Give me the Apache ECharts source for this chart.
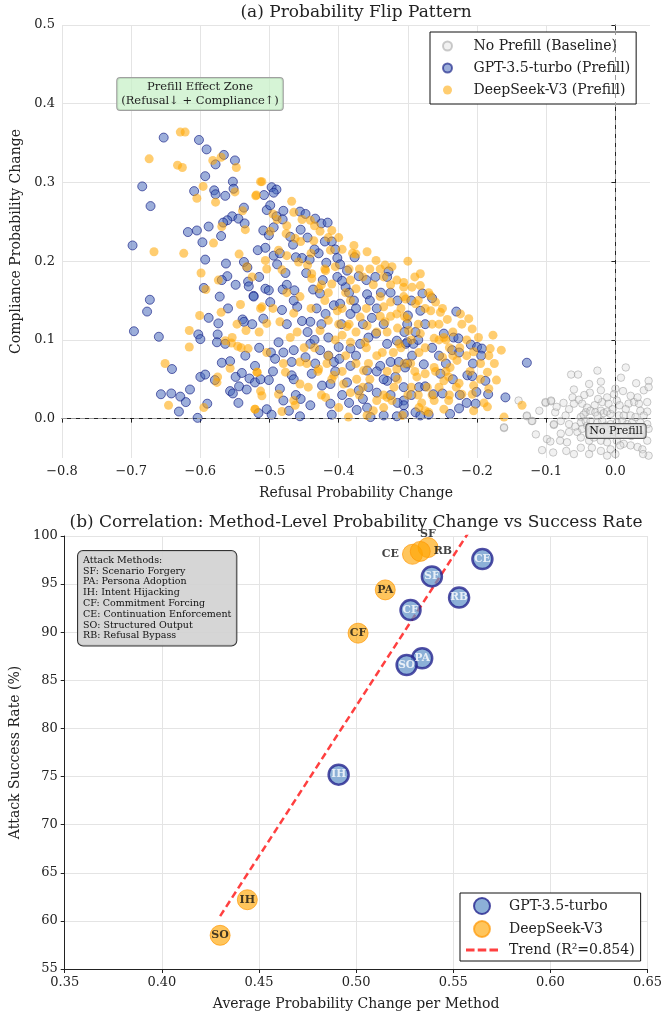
<!DOCTYPE html>
<html>
<head>
<meta charset="utf-8">
<script src="https://cdn.jsdelivr.net/npm/echarts@6/dist/echarts.min.js"></script>
<style>html,body{margin:0;padding:0;background:#fff}#c{width:665px;height:1015px}</style>
</head>
<body>
<div id="c"></div>
<script>
// ---------- (a) Probability Flip Pattern: [refusal change, compliance change] ----------
const baseline = [
[-0.064,0.056],[-0.054,0.056],[-0.026,0.061],[0.015,0.065],[-0.021,0.047],[0.008,0.052],[-0.060,0.037],[-0.037,0.033],
[-0.021,0.036],[0.000,0.038],[-0.002,0.031],[-0.101,0.020],[-0.093,0.022],[-0.075,0.020],[-0.062,0.027],[-0.053,0.024],
[-0.048,0.019],[-0.060,0.019],[-0.067,0.012],[-0.041,0.014],[-0.030,0.017],[-0.019,0.021],[-0.010,0.019],[0.002,0.023],
[0.006,0.017],[0.019,0.019],[0.027,0.021],[0.034,0.019],[0.046,0.021],[0.046,0.009],[0.036,0.010],[0.015,0.012],
[-0.043,0.008],[-0.036,0.010],[-0.029,0.008],[-0.021,0.010],[-0.017,0.007],[-0.012,0.009],[-0.007,0.006],[-0.026,0.004],
[-0.050,0.002],[-0.046,0.005],[-0.128,0.003],[-0.120,-0.003],[-0.161,-0.012],[-0.089,-0.008],[-0.079,-0.003],[-0.067,-0.007],
[-0.050,-0.005],[-0.041,-0.009],[-0.007,-0.007],[0.002,-0.005],[0.010,-0.003],[0.017,-0.007],[0.024,-0.005],[0.036,-0.005],
[0.046,-0.007],[-0.079,-0.019],[-0.067,-0.017],[-0.055,-0.017],[-0.050,-0.024],[-0.099,-0.026],[-0.094,-0.029],[-0.080,-0.028],
[-0.070,-0.030],[-0.038,-0.028],[-0.031,-0.024],[-0.021,-0.028],[-0.012,-0.030],[0.002,-0.028],[0.012,-0.032],[0.022,-0.034],
[0.032,-0.036],[0.039,-0.039],[0.046,-0.028],[-0.106,-0.040],[-0.071,-0.041],[-0.050,-0.037],[-0.034,-0.037],[-0.021,-0.041],
[-0.007,-0.039],[0.007,-0.034],[-0.060,-0.045],[-0.038,-0.045],[-0.012,-0.047],[0.048,-0.047],[0.023,-0.022],[0.036,-0.020],
[0.048,-0.013],[-0.048,-0.013],[-0.043,-0.003],[-0.036,-0.003],[-0.026,-0.005],[-0.019,-0.003],[-0.014,-0.009],[-0.021,-0.013],
[-0.034,-0.014],[-0.012,-0.020],[-0.002,-0.017],[0.005,-0.015],[0.005,0.004],[0.012,0.004],[0.022,0.004],[0.029,0.002],
[0.041,0.004],[0.048,0.048],[0.041,0.036],[-0.012,0.027],[0.032,0.027],[0.022,0.029],[0.048,0.040],[-0.038,0.044],
[-0.140,0.023],[-0.128,0.004],[-0.121,-0.003],[-0.101,0.021],[-0.093,0.023],[-0.087,0.008],[-0.089,-0.007],[-0.161,-0.011],
[-0.110,0.010],[-0.085,0.015],[-0.058,-0.010],[-0.004,0.012],[0.028,-0.015],[-0.072,0.004],[-0.025,0.025],[0.011,0.035],
[-0.045,0.030],[0.040,-0.045],[-0.090,-0.043],[-0.115,-0.020],[0.000,-0.045],[0.030,0.045]
];
const gptPrefill = [
[-0.653,0.357],[-0.602,0.354],[-0.591,0.342],[-0.566,0.335],[-0.578,0.323],[-0.550,0.328],[-0.593,0.308],[-0.553,0.301],
[-0.684,0.295],[-0.609,0.289],[-0.580,0.290],[-0.578,0.285],[-0.564,0.283],[-0.552,0.292],[-0.672,0.270],[-0.537,0.268],
[-0.554,0.257],[-0.545,0.254],[-0.561,0.252],[-0.567,0.249],[-0.536,0.248],[-0.588,0.244],[-0.618,0.237],[-0.605,0.239],
[-0.570,0.232],[-0.597,0.224],[-0.698,0.220],[-0.593,0.202],[-0.563,0.197],[-0.537,0.199],[-0.532,0.192],[-0.561,0.181],
[-0.569,0.176],[-0.549,0.170],[-0.531,0.174],[-0.530,0.168],[-0.595,0.166],[-0.572,0.155],[-0.523,0.156],[-0.673,0.151],
[-0.677,0.136],[-0.588,0.128],[-0.574,0.121],[-0.539,0.126],[-0.537,0.123],[-0.696,0.111],[-0.660,0.104],[-0.603,0.107],
[-0.600,0.101],[-0.575,0.107],[-0.576,0.097],[-0.564,0.095],[-0.569,0.071],[-0.557,0.073],[-0.641,0.063],[-0.600,0.053],
[-0.593,0.056],[-0.579,0.049],[-0.549,0.053],[-0.540,0.058],[-0.529,0.051],[-0.521,0.046],[-0.544,0.041],[-0.533,0.037],
[-0.557,0.035],[-0.553,0.032],[-0.657,0.031],[-0.642,0.032],[-0.629,0.028],[-0.621,0.021],[-0.615,0.037],[-0.590,0.019],
[-0.631,0.009],[-0.604,0.001],[-0.516,0.007],
[-0.497,0.294],[-0.490,0.291],[-0.494,0.287],[-0.508,0.284],[-0.504,0.265],[-0.499,0.271],[-0.490,0.257],[-0.480,0.264],
[-0.481,0.253],[-0.509,0.239],[-0.494,0.243],[-0.501,0.233],[-0.470,0.231],[-0.466,0.221],[-0.456,0.263],[-0.448,0.260],
[-0.434,0.254],[-0.425,0.248],[-0.416,0.249],[-0.410,0.225],[-0.429,0.210],[-0.517,0.214],[-0.506,0.217],[-0.494,0.207],
[-0.489,0.196],[-0.477,0.185],[-0.453,0.204],[-0.442,0.202],[-0.418,0.198],[-0.402,0.204],[-0.398,0.196],[-0.388,0.188],
[-0.402,0.180],[-0.423,0.176],[-0.437,0.164],[-0.427,0.159],[-0.464,0.163],[-0.481,0.164],[-0.506,0.165],[-0.501,0.163],
[-0.523,0.155],[-0.499,0.148],[-0.482,0.138],[-0.460,0.142],[-0.441,0.123],[-0.419,0.133],[-0.407,0.144],[-0.398,0.146],
[-0.383,0.133],[-0.360,0.176],[-0.347,0.180],[-0.371,0.181],[-0.390,0.167],[-0.359,0.158],[-0.328,0.187],[-0.330,0.180],
[-0.509,0.127],[-0.453,0.124],[-0.487,0.097],[-0.498,0.084],[-0.480,0.084],[-0.465,0.087],[-0.441,0.095],[-0.427,0.087],
[-0.415,0.103],[-0.400,0.091],[-0.383,0.089],[-0.369,0.095],[-0.357,0.103],[-0.346,0.108],[-0.330,0.095],[-0.316,0.099],
[-0.303,0.095],[-0.521,0.067],[-0.492,0.076],[-0.468,0.072],[-0.448,0.078],[-0.434,0.070],[-0.407,0.072],[-0.399,0.076],
[-0.383,0.067],[-0.359,0.061],[-0.340,0.067],[-0.325,0.072],[-0.313,0.072],[-0.301,0.070],[-0.513,0.050],[-0.501,0.049],
[-0.485,0.038],[-0.468,0.055],[-0.439,0.057],[-0.424,0.042],[-0.412,0.044],[-0.388,0.046],[-0.371,0.036],[-0.357,0.040],
[-0.345,0.033],[-0.330,0.048],[-0.318,0.053],[-0.306,0.040],[-0.504,0.012],[-0.497,0.005],[-0.472,0.010],[-0.456,0.003],
[-0.441,0.017],[-0.410,0.005],[-0.412,0.019],[-0.374,0.011],[-0.359,0.014],[-0.354,0.002],[-0.335,0.004],[-0.316,0.003],
[-0.306,0.023],[-0.480,0.023],[-0.462,0.030],[-0.447,0.185],[-0.432,0.140],[-0.396,0.120],[-0.378,0.150],[-0.352,0.128],
[-0.339,0.160],[-0.462,0.205],[-0.420,0.225],[-0.377,0.205],
[-0.279,0.159],[-0.265,0.153],[-0.282,0.137],[-0.300,0.131],[-0.301,0.120],[-0.230,0.136],[-0.289,0.110],[-0.248,0.108],
[-0.234,0.103],[-0.227,0.102],[-0.301,0.097],[-0.292,0.095],[-0.236,0.087],[-0.226,0.084],[-0.209,0.094],[-0.200,0.091],
[-0.193,0.089],[-0.194,0.080],[-0.128,0.071],[-0.294,0.080],[-0.304,0.065],[-0.277,0.069],[-0.253,0.057],[-0.206,0.070],
[-0.214,0.055],[-0.207,0.054],[-0.188,0.048],[-0.284,0.040],[-0.275,0.041],[-0.263,0.031],[-0.250,0.032],[-0.201,0.034],
[-0.184,0.031],[-0.159,0.027],[-0.202,0.019],[-0.226,0.013],[-0.306,0.017],[-0.289,0.008],[-0.282,0.004],[-0.270,0.005],
[-0.239,0.006],[-0.306,0.006],
[-0.455,0.240],[-0.445,0.230],[-0.435,0.215],[-0.405,0.215],[-0.395,0.175],[-0.385,0.160],[-0.375,0.140],[-0.365,0.120],
[-0.355,0.150],[-0.345,0.140],[-0.335,0.120],[-0.325,0.160],[-0.315,0.150],[-0.305,0.110],[-0.295,0.150],[-0.285,0.100],
[-0.275,0.120],[-0.265,0.090],[-0.255,0.080],[-0.245,0.070],[-0.235,0.050],[-0.225,0.030],[-0.215,0.020],[-0.445,0.110],
[-0.435,0.100],[-0.425,0.120],[-0.415,0.080],[-0.405,0.060],[-0.395,0.030],[-0.385,0.020],[-0.375,0.080],[-0.365,0.025],
[-0.345,0.060],[-0.335,0.050],[-0.325,0.030],[-0.315,0.020],[-0.295,0.030],[-0.475,0.120],[-0.465,0.050],[-0.455,0.025],
[-0.495,0.060],[-0.515,0.090],[-0.485,0.210],[-0.475,0.170],[-0.465,0.150],[-0.515,0.180],[-0.525,0.120],[-0.535,0.080],
[-0.545,0.020],[-0.560,0.140]
];
const deepseekPrefill = [
[-0.629,0.364],[-0.622,0.364],[-0.674,0.330],[-0.633,0.322],[-0.626,0.319],[-0.582,0.328],[-0.570,0.332],[-0.548,0.319],
[-0.596,0.295],[-0.605,0.280],[-0.578,0.275],[-0.550,0.288],[-0.520,0.283],[-0.513,0.301],[-0.569,0.244],[-0.581,0.223],
[-0.539,0.264],[-0.667,0.212],[-0.624,0.210],[-0.544,0.209],[-0.599,0.185],[-0.533,0.193],[-0.574,0.176],[-0.592,0.164],
[-0.542,0.145],[-0.513,0.140],[-0.570,0.135],[-0.601,0.131],[-0.547,0.120],[-0.534,0.112],[-0.616,0.112],[-0.564,0.099],
[-0.554,0.103],[-0.555,0.096],[-0.546,0.092],[-0.541,0.090],[-0.531,0.089],[-0.616,0.091],[-0.651,0.070],[-0.557,0.064],
[-0.575,0.053],[-0.576,0.046],[-0.518,0.059],[-0.646,0.017],[-0.595,0.014],[-0.521,0.012],[-0.513,0.035],
[-0.511,0.301],[-0.519,0.284],[-0.468,0.276],[-0.465,0.262],[-0.489,0.253],[-0.453,0.253],[-0.441,0.252],[-0.499,0.238],
[-0.476,0.235],[-0.463,0.229],[-0.436,0.226],[-0.427,0.238],[-0.410,0.239],[-0.412,0.214],[-0.487,0.214],[-0.475,0.207],
[-0.458,0.199],[-0.506,0.201],[-0.504,0.190],[-0.482,0.189],[-0.439,0.184],[-0.439,0.178],[-0.419,0.188],[-0.405,0.193],
[-0.378,0.220],[-0.375,0.209],[-0.359,0.212],[-0.346,0.201],[-0.333,0.195],[-0.323,0.193],[-0.316,0.176],[-0.306,0.167],
[-0.383,0.176],[-0.375,0.165],[-0.410,0.171],[-0.429,0.165],[-0.456,0.155],[-0.511,0.142],[-0.465,0.134],[-0.485,0.123],
[-0.504,0.121],[-0.415,0.125],[-0.402,0.137],[-0.383,0.150],[-0.369,0.129],[-0.340,0.155],[-0.335,0.142],[-0.325,0.148],
[-0.316,0.133],[-0.303,0.152],[-0.333,0.123],[-0.359,0.118],[-0.388,0.117],[-0.427,0.112],[-0.470,0.103],[-0.504,0.084],
[-0.456,0.072],[-0.446,0.070],[-0.429,0.063],[-0.417,0.070],[-0.395,0.106],[-0.383,0.097],[-0.362,0.097],[-0.357,0.070],
[-0.364,0.061],[-0.337,0.084],[-0.321,0.084],[-0.313,0.095],[-0.480,0.070],[-0.518,0.059],[-0.477,0.059],[-0.456,0.044],
[-0.444,0.040],[-0.407,0.055],[-0.393,0.044],[-0.374,0.050],[-0.383,0.033],[-0.419,0.027],[-0.511,0.029],[-0.487,0.031],
[-0.465,0.023],[-0.463,0.017],[-0.521,0.012],[-0.482,0.009],[-0.400,0.014],[-0.386,0.002],[-0.359,0.004],[-0.335,0.014],
[-0.330,0.027],[-0.323,0.023],[-0.308,0.004],[-0.345,0.023],[-0.316,0.063],
[-0.306,0.173],[-0.294,0.167],[-0.282,0.169],[-0.289,0.146],[-0.267,0.156],[-0.260,0.148],[-0.267,0.137],[-0.253,0.135],
[-0.243,0.126],[-0.224,0.133],[-0.222,0.120],[-0.212,0.127],[-0.207,0.114],[-0.198,0.103],[-0.177,0.106],[-0.181,0.089],
[-0.183,0.080],[-0.165,0.087],[-0.185,0.059],[-0.172,0.049],[-0.183,0.038],[-0.135,0.017],[-0.161,0.002],[-0.205,0.042],
[-0.205,0.010],[-0.222,0.031],[-0.226,0.045],[-0.239,0.065],[-0.241,0.053],[-0.248,0.048],[-0.241,0.023],[-0.248,0.012],
[-0.262,0.023],[-0.272,0.040],[-0.275,0.057],[-0.287,0.053],[-0.296,0.070],[-0.262,0.065],[-0.250,0.078],[-0.229,0.074],
[-0.284,0.084],[-0.262,0.102],[-0.248,0.103],[-0.282,0.108],[-0.299,0.112],[-0.301,0.127],[-0.284,0.014],[-0.270,0.008],
[-0.282,0.184],[-0.306,0.155],[-0.207,0.031],
[-0.460,0.110],[-0.440,0.140],[-0.420,0.150],[-0.400,0.120],[-0.380,0.210],[-0.370,0.190],[-0.360,0.140],[-0.350,0.170],
[-0.340,0.130],[-0.330,0.060],[-0.320,0.040],[-0.310,0.140],[-0.300,0.200],[-0.290,0.180],[-0.285,0.120],[-0.275,0.090],
[-0.270,0.160],[-0.265,0.030],[-0.255,0.100],[-0.250,0.140],[-0.240,0.090],[-0.235,0.110],[-0.230,0.040],[-0.215,0.080],
[-0.210,0.060],[-0.195,0.070],[-0.190,0.020],[-0.440,0.210],[-0.420,0.190],[-0.400,0.230],[-0.390,0.080],[-0.370,0.030],
[-0.350,0.010],[-0.330,0.110],[-0.310,0.090],[-0.290,0.060],[-0.430,0.060],[-0.450,0.090],[-0.410,0.050],[-0.390,0.160],
[-0.360,0.090],[-0.340,0.190],[-0.300,0.030],[-0.280,0.020],[-0.260,0.060],[-0.240,0.030],
[-0.455,0.225],[-0.445,0.195],[-0.425,0.170],[-0.415,0.160],[-0.405,0.100],[-0.395,0.140],[-0.385,0.190],[-0.375,0.110],
[-0.365,0.180],[-0.355,0.190],[-0.345,0.080],[-0.335,0.180],[-0.325,0.170],[-0.315,0.115],[-0.305,0.130],[-0.295,0.100],
[-0.285,0.150],[-0.275,0.140],[-0.265,0.120],[-0.255,0.120],[-0.245,0.100],[-0.235,0.080],[-0.225,0.090],[-0.215,0.100],
[-0.205,0.085],[-0.195,0.050],[-0.185,0.015],[-0.175,0.070],[-0.395,0.060],[-0.385,0.120],[-0.375,0.070],[-0.365,0.040],
[-0.355,0.050],[-0.345,0.110],[-0.335,0.030],[-0.325,0.130],[-0.315,0.050],[-0.305,0.070],[-0.295,0.040],[-0.285,0.030],
[-0.275,0.010],[-0.255,0.040],[-0.245,0.060],[-0.435,0.090],[-0.425,0.030],[-0.415,0.080],[-0.475,0.160],[-0.495,0.140],
[-0.515,0.110],[-0.525,0.180],[-0.535,0.240],[-0.495,0.260],[-0.475,0.245],[-0.435,0.245],[-0.415,0.230],[-0.395,0.215]
];

// ---------- (b) Method-level correlation ----------
const methods = ['SF','PA','IH','CF','CE','SO','RB'];
const gptProbChange = [0.539,0.534,0.491,0.528,0.565,0.526,0.553];
const gptSuccess    = [95.8, 87.3, 75.2, 92.3, 97.6, 86.6, 93.6];
const dsProbChange  = [0.537,0.515,0.444,0.501,0.529,0.430,0.533];
const dsSuccess     = [98.8, 94.4, 62.2, 89.9, 98.1, 58.5, 98.4];
const trendX = [0.430, 0.566];
const trendY = [60.5, 102.9];
const methodNotes = ['Attack Methods:','SF: Scenario Forgery','PA: Persona Adoption','IH: Intent Hijacking',
  'CF: Commitment Forcing','CE: Continuation Enforcement','SO: Structured Output','RB: Refusal Bypass'];

const FONT = "'DejaVu Serif', 'Liberation Serif', serif";
const minus = s => s.replace('-', '\u2212');
const isMult = (v, step) => Math.abs(v/step - Math.round(v/step)) < 1e-6;

const gridLine = {show:true, lineStyle:{color:'#e4e4e4', width:1}};
const axLine = {show:true, lineStyle:{color:'#222', width:1}};
const axTick = {show:true, length:4, lineStyle:{color:'#222'}};
const labStyle = {color:'#222', fontSize:13, fontFamily:FONT};
const nameStyle = {color:'#222', fontSize:14, fontFamily:FONT};

const dsLabelPos = {CE:'left', SF:'top', RB:'right'};
const trendName = 'Trend (R\u00b2=0.854)';

const chart = echarts.init(document.getElementById('c'), null, {renderer:'canvas'});
chart.setOption({
  animation:false,
  backgroundColor:'#fff',
  grid:[
    {left:62, top:25, right:15, height:433, containLabel:false},
    {left:62, top:536, right:15, height:433, containLabel:false}
  ],
  xAxis:[
    {gridIndex:0, type:'value', min:-0.8, max:0.05, interval:0.1,
     name:'Refusal Probability Change', nameLocation:'middle', nameGap:28, nameTextStyle:nameStyle,
     axisLine:axLine, axisTick:axTick, splitLine:Object.assign({showMaxLine:false}, gridLine),
     axisLabel:Object.assign({margin:7, showMaxLabel:false, formatter:v => isMult(v,0.1) ? minus(v.toFixed(1)) : ''}, labStyle)},
    {gridIndex:1, type:'value', min:0.35, max:0.65, interval:0.05,
     name:'Average Probability Change per Method', nameLocation:'middle', nameGap:28, nameTextStyle:nameStyle,
     axisLine:axLine, axisTick:axTick, splitLine:gridLine,
     axisLabel:Object.assign({margin:7, formatter:v => v.toFixed(2)}, labStyle)}
  ],
  yAxis:[
    {gridIndex:0, type:'value', min:-0.05, max:0.5, splitNumber:5,
     name:'Compliance Probability Change', nameLocation:'middle', nameGap:39, nameTextStyle:nameStyle,
     axisLine:axLine, axisTick:axTick, splitLine:Object.assign({showMinLine:false}, gridLine),
     axisLabel:Object.assign({margin:7, showMinLabel:false, formatter:v => isMult(v,0.1) ? minus(v.toFixed(1)) : ''}, labStyle)},
    {gridIndex:1, type:'value', min:55, max:100, interval:5,
     name:'Attack Success Rate (%)', nameLocation:'middle', nameGap:38, nameTextStyle:nameStyle,
     axisLine:axLine, axisTick:axTick, splitLine:gridLine,
     axisLabel:Object.assign({margin:7}, labStyle)}
  ],
  legend:[
    {left:430, top:32, orient:'vertical', itemWidth:26, itemHeight:9, itemGap:8,
     padding:[7,6,7,12], borderColor:'#111', borderWidth:1, backgroundColor:'#fff', borderRadius:0,
     textStyle:{fontFamily:FONT, fontSize:14, color:'#222', padding:[0,0,0,8]},
     data:['No Prefill (Baseline)','GPT-3.5-turbo (Prefill)','DeepSeek-V3 (Prefill)']},
    {left:460, top:893, orient:'vertical', itemWidth:32, itemHeight:16, itemGap:5,
     padding:[4,6,4,6], borderColor:'#111', borderWidth:1, backgroundColor:'#fff', borderRadius:0,
     textStyle:{fontFamily:FONT, fontSize:14, color:'#222', padding:[0,0,0,6]},
     data:['GPT-3.5-turbo','DeepSeek-V3',
       {name:trendName, icon:'path://M0,0h8v2.6h-8z M11,0h8v2.6h-8z M22,0h8v2.6h-8z', itemStyle:{color:'rgba(255,30,30,0.85)'}}]}
  ],
  series:[
    {name:'No Prefill (Baseline)', type:'scatter', xAxisIndex:0, yAxisIndex:0, data:baseline, symbolSize:7.5, z:2,
     itemStyle:{color:'rgba(215,215,215,0.45)', borderColor:'rgba(140,140,140,0.55)', borderWidth:1},
     markLine:{silent:true, symbol:['none','none'], label:{show:false}, animation:false,
       lineStyle:{type:[5,4], color:'#9a9a9a', width:1}, data:[{xAxis:0},{yAxis:0}]}},
    {name:'GPT-3.5-turbo (Prefill)', type:'scatter', xAxisIndex:0, yAxisIndex:0, data:gptPrefill, symbolSize:9, z:3,
     itemStyle:{color:'rgba(65,100,185,0.65)', borderColor:'rgba(15,25,130,0.8)', borderWidth:1}},
    {name:'DeepSeek-V3 (Prefill)', type:'scatter', xAxisIndex:0, yAxisIndex:0, data:deepseekPrefill, symbolSize:9, z:4,
     itemStyle:{color:'rgba(255,165,0,0.7)', borderWidth:0}},
    {name:trendName, type:'line', xAxisIndex:1, yAxisIndex:1, clip:true, symbol:'none', showSymbol:false, z:3,
     data:trendX.map((x,i)=>[x,trendY[i]]),
     lineStyle:{color:'rgba(255,30,30,0.85)', width:2.5, type:[7,4]}, itemStyle:{color:'rgba(255,30,30,0.85)'}},
    {name:'GPT-3.5-turbo', type:'scatter', xAxisIndex:1, yAxisIndex:1, symbolSize:20, z:4,
     data:methods.map((m,i)=>({value:[gptProbChange[i], gptSuccess[i]], name:m})),
     itemStyle:{color:'rgba(95,145,200,0.9)', borderColor:'#24248f', borderWidth:2.5},
     label:{show:true, position:'inside', formatter:p=>p.name, color:'#fff', fontFamily:FONT, fontSize:10.5, fontWeight:'bold'}},
    {name:'DeepSeek-V3', type:'scatter', xAxisIndex:1, yAxisIndex:1, symbolSize:20, z:5,
     data:methods.map((m,i)=>({value:[dsProbChange[i], dsSuccess[i]], name:m,
        label: dsLabelPos[m] ? {position:dsLabelPos[m], distance: m==='SF'?-3:3} : undefined})),
     itemStyle:{color:'rgba(255,165,0,0.8)', borderColor:'rgba(255,150,0,0.85)', borderWidth:1},
     label:{show:true, position:'inside', formatter:p=>p.name, color:'#111', fontFamily:FONT, fontSize:11, fontWeight:'bold'}}
  ],
  graphic:[
    {type:'text', x:356, y:13, style:{text:'(a) Probability Flip Pattern', textAlign:'center', textVerticalAlign:'middle', font:'17px '+FONT, fill:'#222'}},
    {type:'text', x:356, y:523, style:{text:'(b) Correlation: Method-Level Probability Change vs Success Rate', textAlign:'center', textVerticalAlign:'middle', font:'17px '+FONT, fill:'#222'}},
    {type:'text', x:200, y:94, z:10, style:{text:'Prefill Effect Zone\n(Refusal\u2193 + Compliance\u2191)', textAlign:'center', textVerticalAlign:'middle',
      font:'11.5px '+FONT, fill:'#222', lineHeight:14, backgroundColor:'rgba(200,240,200,0.75)', borderColor:'#a0a0a0', borderWidth:1, borderRadius:3, padding:[2,4,2,4]}},
    {type:'text', x:616, y:431, z:10, style:{text:'No Prefill', textAlign:'center', textVerticalAlign:'middle',
      font:'11px '+FONT, fill:'#111', backgroundColor:'rgba(225,225,225,0.8)', borderColor:'#555', borderWidth:1, borderRadius:3, padding:[2,3,1,3]}},
    {type:'text', x:78, y:551, z:10, style:{text:methodNotes.join('\n'), textAlign:'left', textVerticalAlign:'top',
      font:'9.5px '+FONT, fill:'#111', lineHeight:10.8, backgroundColor:'rgba(210,210,210,0.9)', borderColor:'#333', borderWidth:1, borderRadius:5, padding:[4,5,4,5]}}
  ]
});
</script>
</body>
</html>
